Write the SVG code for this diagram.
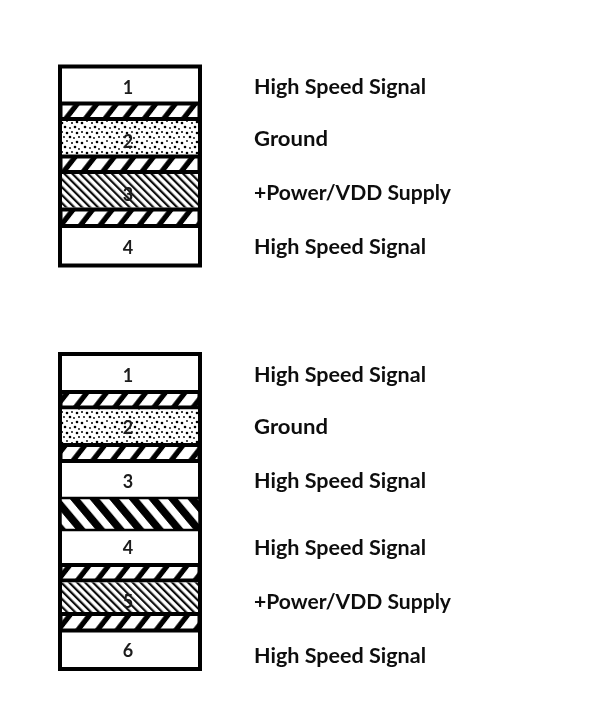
<svg xmlns="http://www.w3.org/2000/svg" width="602" height="724" viewBox="0 0 602 724">
<style>
.t{font-family:Lato,"Liberation Sans",sans-serif;font-weight:700;font-size:21px;fill:#111}
.n{font-family:Lato,"Liberation Sans",sans-serif;font-weight:700;font-size:18px;fill:#1a1a1a;text-anchor:middle}
.o{fill:#fff;stroke:#000;stroke-width:4}
.i{fill:url(#ins);stroke:#000;stroke-width:4}
.d{fill:url(#dots)}
.h{fill:url(#fine)}
.b{fill:url(#bold);stroke:#000;stroke-width:2.500}
</style>
<defs>
<filter id="soft" x="-5%" y="-5%" width="110%" height="110%"><feGaussianBlur stdDeviation="0.55"/></filter>
<pattern id="ins" patternUnits="userSpaceOnUse" width="19.6" height="40" patternTransform="skewX(-38)"><rect width="19.6" height="40" fill="#000"/><rect x="5" width="13" height="40" fill="#fff"/></pattern>
<pattern id="bold" patternUnits="userSpaceOnUse" width="19.6" height="40" patternTransform="skewX(40)"><rect width="19.6" height="40" fill="#fff"/><rect x="4" width="10" height="40" fill="#000"/></pattern>
<pattern id="fine" patternUnits="userSpaceOnUse" width="5.6" height="5.6" patternTransform="rotate(-45)"><rect width="5.6" height="5.6" fill="#fff"/><rect width="2.200" height="5.6" fill="#111"/></pattern>
<pattern id="dots" patternUnits="userSpaceOnUse" width="20" height="20"><rect width="20" height="20" fill="#fff"/><g fill="#000"><circle cx="2" cy="3" r="1.300"/><circle cx="7" cy="1" r="0.900"/><circle cx="12" cy="3" r="1"/><circle cx="17" cy="2" r="1.300"/><circle cx="5" cy="7" r="1.300"/><circle cx="10" cy="8" r="0.900"/><circle cx="15" cy="7" r="1.300"/><circle cx="19" cy="9" r="0.900"/><circle cx="2" cy="12" r="1"/><circle cx="7" cy="13" r="1.300"/><circle cx="12" cy="12" r="0.900"/><circle cx="17" cy="13" r="1.300"/><circle cx="4" cy="17" r="0.900"/><circle cx="10" cy="17" r="1.300"/><circle cx="14" cy="18" r="0.900"/><circle cx="19" cy="17" r="1"/></g></pattern>
</defs>
<rect width="602" height="724" fill="#fff"/>
<g filter="url(#soft)">
<g id="stack-a">
<rect class="o" x="60" y="66.500" width="140" height="199"/>
<rect class="i" x="60.500" y="103.500" width="139" height="15.500"/>
<rect class="d" x="62" y="121" width="136" height="33.500"/>
<rect class="i" x="60.500" y="156.500" width="139" height="15.500"/>
<rect class="h" x="62" y="174" width="136" height="33.500"/>
<rect class="i" x="60.500" y="209.500" width="139" height="16.500"/>
<text class="n" x="128" y="93.500">1</text>
<text class="n" x="128" y="147.500">2</text>
<text class="n" x="128" y="200.500">3</text>
<text class="n" x="128" y="254">4</text>
</g>
<g id="labels-a">
<text class="t" x="254" y="93.500" textLength="172" lengthAdjust="spacingAndGlyphs">High Speed Signal</text>
<text class="t" x="254" y="145.500" textLength="74" lengthAdjust="spacingAndGlyphs">Ground</text>
<text class="t" x="254" y="199.500" textLength="197" lengthAdjust="spacingAndGlyphs">+Power/VDD Supply</text>
<text class="t" x="254" y="253.500" textLength="172" lengthAdjust="spacingAndGlyphs">High Speed Signal</text>
</g>
<g id="stack-b">
<rect class="o" x="60" y="354" width="140" height="315"/>
<rect class="i" x="60.500" y="392" width="139" height="15.500"/>
<rect class="d" x="62" y="409.500" width="136" height="33.500"/>
<rect class="i" x="60.500" y="445" width="139" height="16"/>
<rect class="b" x="60.500" y="498" width="139" height="32"/>
<rect class="i" x="60.500" y="565" width="139" height="15.500"/>
<rect class="h" x="62" y="582.500" width="136" height="29.500"/>
<rect class="i" x="60.500" y="614" width="139" height="16.500"/>
<text class="n" x="128" y="382">1</text>
<text class="n" x="128" y="434">2</text>
<text class="n" x="128" y="488">3</text>
<text class="n" x="128" y="554">4</text>
<text class="n" x="128" y="608">5</text>
<text class="n" x="128" y="657">6</text>
</g>
<g id="labels-b">
<text class="t" x="254" y="381.500" textLength="172" lengthAdjust="spacingAndGlyphs">High Speed Signal</text>
<text class="t" x="254" y="433.500" textLength="74" lengthAdjust="spacingAndGlyphs">Ground</text>
<text class="t" x="254" y="487.500" textLength="172" lengthAdjust="spacingAndGlyphs">High Speed Signal</text>
<text class="t" x="254" y="554.500" textLength="172" lengthAdjust="spacingAndGlyphs">High Speed Signal</text>
<text class="t" x="254" y="608.500" textLength="197" lengthAdjust="spacingAndGlyphs">+Power/VDD Supply</text>
<text class="t" x="254" y="662.500" textLength="172" lengthAdjust="spacingAndGlyphs">High Speed Signal</text>
</g>
</g>
</svg>
